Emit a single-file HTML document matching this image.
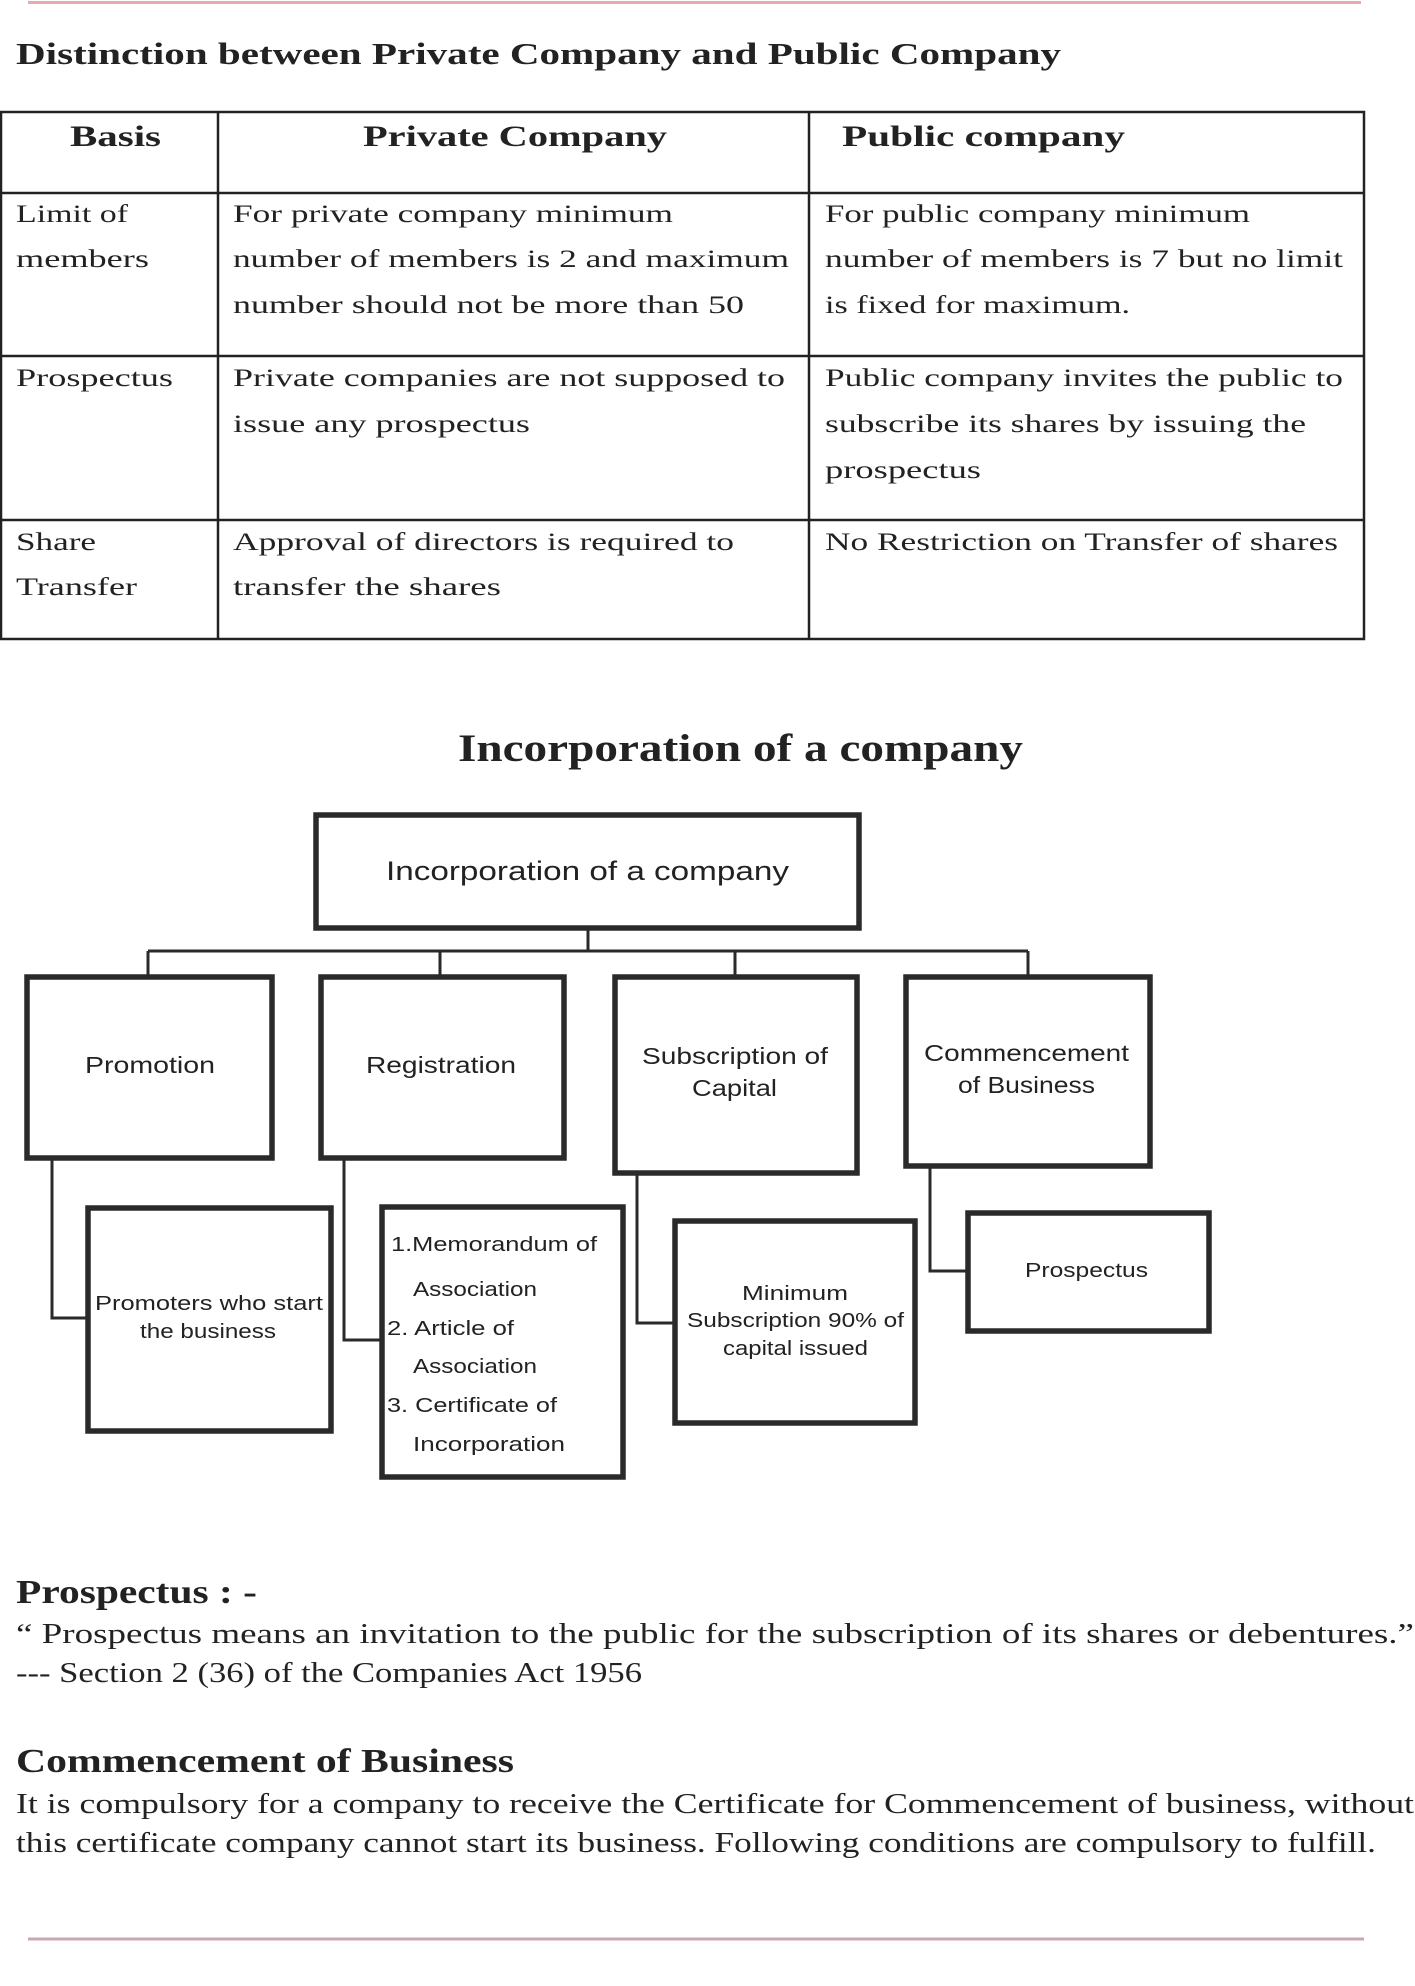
<!DOCTYPE html>
<html><head><meta charset="utf-8"><style>
html,body{margin:0;padding:0;background:#fff;}
svg{display:block;}
.s{font-family:"Liberation Serif",serif;fill:#222;}
.b{font-weight:bold;}
.a{font-family:"Liberation Sans",sans-serif;fill:#222;}
</style></head><body>
<svg width="1415" height="1986" viewBox="0 0 1415 1986" xmlns="http://www.w3.org/2000/svg">
<line x1="28" y1="2.5" x2="1361" y2="2.5" stroke="#e8a8b4" stroke-width="3"/>
<text class="s b" x="16" y="64" font-size="31" textLength="1045" lengthAdjust="spacingAndGlyphs">Distinction between Private Company and Public Company</text>

<g stroke="#222" stroke-width="2.5" fill="none">
<rect x="1" y="112" width="1363" height="527"/>
<line x1="1" y1="193" x2="1364" y2="193"/>
<line x1="1" y1="356" x2="1364" y2="356"/>
<line x1="1" y1="520" x2="1364" y2="520"/>
<line x1="218" y1="112" x2="218" y2="639"/>
<line x1="809" y1="112" x2="809" y2="639"/>
</g>
<g class="s b" font-size="30">
<text x="70" y="146" textLength="91" lengthAdjust="spacingAndGlyphs">Basis</text>
<text x="363" y="146" textLength="304" lengthAdjust="spacingAndGlyphs">Private Company</text>
<text x="842" y="146" textLength="283" lengthAdjust="spacingAndGlyphs">Public company</text>
</g>
<g class="s" font-size="25.5">
<text x="16" y="222" textLength="112" lengthAdjust="spacingAndGlyphs">Limit of</text>
<text x="16" y="267" textLength="133" lengthAdjust="spacingAndGlyphs">members</text>
<text x="233" y="222" textLength="440" lengthAdjust="spacingAndGlyphs">For private company minimum</text>
<text x="233" y="267" textLength="556" lengthAdjust="spacingAndGlyphs">number of members is 2 and maximum</text>
<text x="233" y="313" textLength="511" lengthAdjust="spacingAndGlyphs">number should not be more than 50</text>
<text x="825" y="222" textLength="425" lengthAdjust="spacingAndGlyphs">For public company minimum</text>
<text x="825" y="267" textLength="518" lengthAdjust="spacingAndGlyphs">number of members is 7 but no limit</text>
<text x="825" y="313" textLength="305" lengthAdjust="spacingAndGlyphs">is fixed for maximum.</text>

<text x="16" y="386" textLength="157" lengthAdjust="spacingAndGlyphs">Prospectus</text>
<text x="233" y="386" textLength="552" lengthAdjust="spacingAndGlyphs">Private companies are not supposed to</text>
<text x="233" y="432" textLength="297" lengthAdjust="spacingAndGlyphs">issue any prospectus</text>
<text x="825" y="386" textLength="518" lengthAdjust="spacingAndGlyphs">Public company invites the public to</text>
<text x="825" y="432" textLength="481" lengthAdjust="spacingAndGlyphs">subscribe its shares by issuing the</text>
<text x="825" y="478" textLength="156" lengthAdjust="spacingAndGlyphs">prospectus</text>

<text x="16" y="550" textLength="80" lengthAdjust="spacingAndGlyphs">Share</text>
<text x="16" y="595" textLength="121" lengthAdjust="spacingAndGlyphs">Transfer</text>
<text x="233" y="550" textLength="501" lengthAdjust="spacingAndGlyphs">Approval of directors is required to</text>
<text x="233" y="595" textLength="268" lengthAdjust="spacingAndGlyphs">transfer the shares</text>
<text x="825" y="550" textLength="513" lengthAdjust="spacingAndGlyphs">No Restriction on Transfer of shares</text>
</g>

<text class="s b" x="458" y="761" font-size="39" textLength="565" lengthAdjust="spacingAndGlyphs">Incorporation of a company</text>

<g stroke="#2a2a2a" stroke-width="3" fill="none">
<line x1="588" y1="928" x2="588" y2="951"/>
<line x1="148" y1="951" x2="1028" y2="951"/>
<line x1="148" y1="951" x2="148" y2="975"/>
<line x1="440" y1="951" x2="440" y2="975"/>
<line x1="735" y1="951" x2="735" y2="975"/>
<line x1="1028" y1="951" x2="1028" y2="975"/>
<polyline points="52,1158 52,1318 86,1318"/>
<polyline points="344,1158 344,1340 380,1340"/>
<polyline points="637,1173 637,1323 673,1323"/>
<polyline points="930,1166 930,1271 966,1271"/>
</g>
<g stroke="#2a2a2a" stroke-width="5.5" fill="#fff">
<rect x="316" y="815" width="543" height="113"/>
<rect x="27" y="977" width="245" height="181"/>
<rect x="321" y="977" width="243" height="181"/>
<rect x="615" y="977" width="242" height="196"/>
<rect x="906" y="977" width="244" height="189"/>
<rect x="88" y="1208" width="243" height="223"/>
<rect x="382" y="1207" width="241" height="270"/>
<rect x="675" y="1221" width="240" height="202"/>
<rect x="968" y="1213" width="241" height="118"/>
</g>
<g class="a">
<text x="386" y="880" font-size="27" textLength="403" lengthAdjust="spacingAndGlyphs">Incorporation of a company</text>
<text x="85" y="1073" font-size="23" textLength="130" lengthAdjust="spacingAndGlyphs">Promotion</text>
<text x="366" y="1073" font-size="23" textLength="150" lengthAdjust="spacingAndGlyphs">Registration</text>
<text x="642" y="1064" font-size="23" textLength="186" lengthAdjust="spacingAndGlyphs">Subscription of</text>
<text x="692" y="1096" font-size="23" textLength="85" lengthAdjust="spacingAndGlyphs">Capital</text>
<text x="924" y="1061" font-size="23" textLength="205" lengthAdjust="spacingAndGlyphs">Commencement</text>
<text x="958" y="1093" font-size="23" textLength="137" lengthAdjust="spacingAndGlyphs">of Business</text>
<text x="95" y="1310" font-size="20" textLength="228" lengthAdjust="spacingAndGlyphs">Promoters who start</text>
<text x="140" y="1338" font-size="20" textLength="136" lengthAdjust="spacingAndGlyphs">the business</text>
<text x="391" y="1251" font-size="20" textLength="206" lengthAdjust="spacingAndGlyphs">1.Memorandum of</text>
<text x="413" y="1296" font-size="20" textLength="124" lengthAdjust="spacingAndGlyphs">Association</text>
<text x="387" y="1335" font-size="20" textLength="127" lengthAdjust="spacingAndGlyphs">2. Article of</text>
<text x="413" y="1373" font-size="20" textLength="124" lengthAdjust="spacingAndGlyphs">Association</text>
<text x="387" y="1412" font-size="20" textLength="170" lengthAdjust="spacingAndGlyphs">3. Certificate of</text>
<text x="413" y="1451" font-size="20" textLength="152" lengthAdjust="spacingAndGlyphs">Incorporation</text>
<text x="742" y="1300" font-size="20" textLength="106" lengthAdjust="spacingAndGlyphs">Minimum</text>
<text x="687" y="1327" font-size="20" textLength="217" lengthAdjust="spacingAndGlyphs">Subscription 90% of</text>
<text x="723" y="1355" font-size="20" textLength="145" lengthAdjust="spacingAndGlyphs">capital issued</text>
<text x="1025" y="1277" font-size="20" textLength="123" lengthAdjust="spacingAndGlyphs">Prospectus</text>
</g>

<text class="s b" x="16" y="1603" font-size="34" textLength="241" lengthAdjust="spacingAndGlyphs">Prospectus : -</text>
<text class="s" x="16" y="1643" font-size="28" textLength="1398" lengthAdjust="spacingAndGlyphs">“ Prospectus means an invitation to the public for the subscription of its shares or debentures.”</text>
<text class="s" x="16" y="1682" font-size="28" textLength="626" lengthAdjust="spacingAndGlyphs">--- Section 2 (36) of the Companies Act 1956</text>
<text class="s b" x="16" y="1772" font-size="34" textLength="498" lengthAdjust="spacingAndGlyphs">Commencement of Business</text>
<text class="s" x="16" y="1813" font-size="28" textLength="1398" lengthAdjust="spacingAndGlyphs">It is compulsory for a company to receive the Certificate for Commencement of business, without</text>
<text class="s" x="16" y="1852" font-size="28" textLength="1360" lengthAdjust="spacingAndGlyphs">this certificate company cannot start its business. Following conditions are compulsory to fulfill.</text>
<line x1="28" y1="1939" x2="1364" y2="1939" stroke="#c8a8b0" stroke-width="3"/>
</svg>
</body></html>
